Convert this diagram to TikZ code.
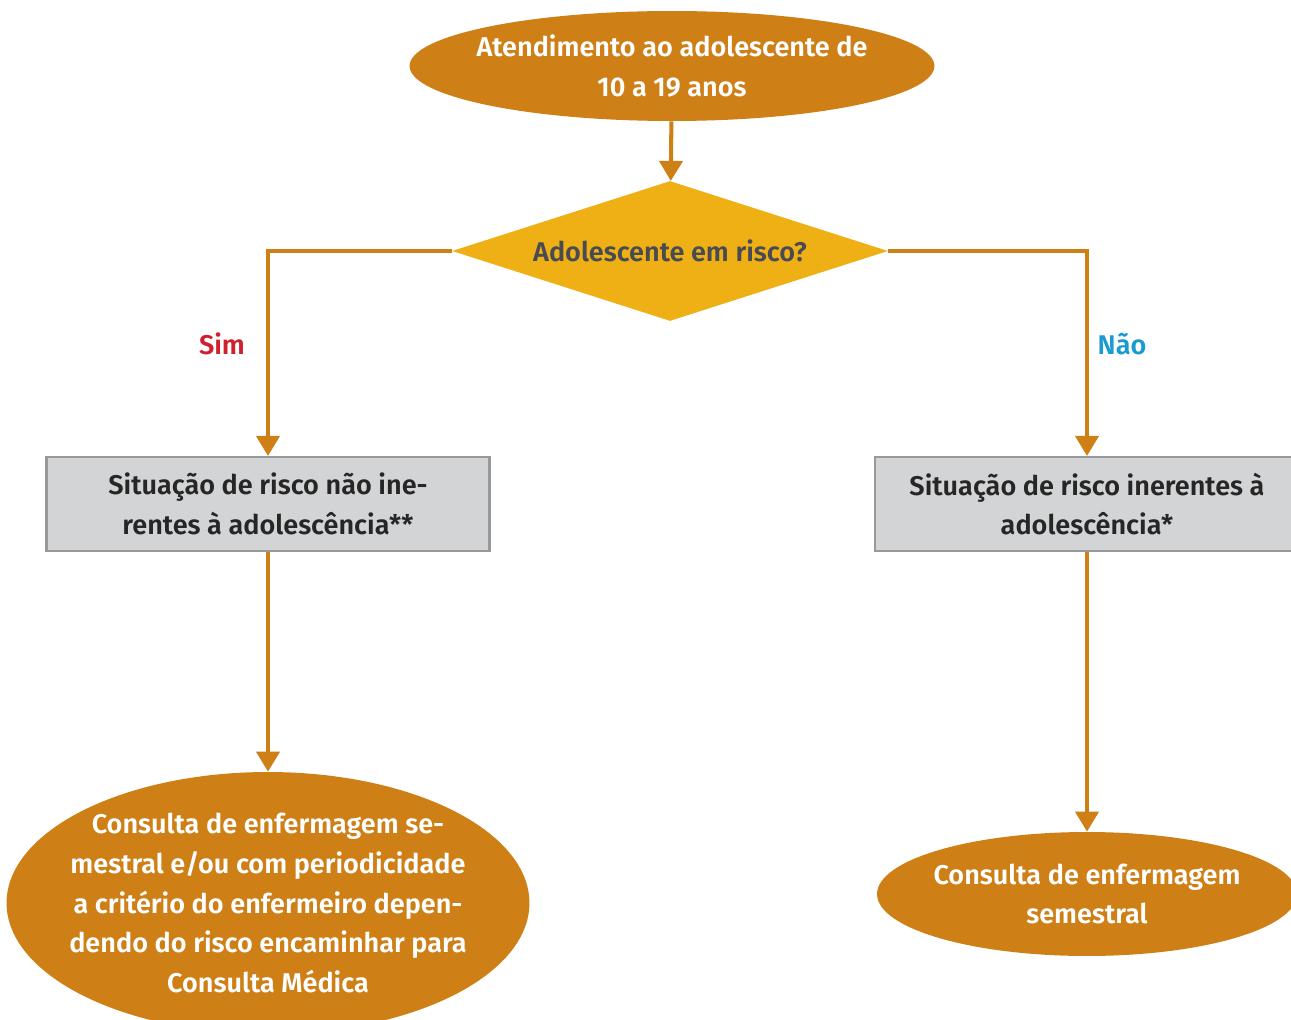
\documentclass[tikz,border=0pt]{standalone}
\usepackage{fontspec}
\setmainfont{Fira Sans}[BoldFont={Fira Sans SemiBold}]
\usetikzlibrary{shapes.geometric, arrows.meta}

\definecolor{ochre}{RGB}{206,128,22}
\definecolor{amber}{RGB}{239,176,22}
\definecolor{boxgray}{RGB}{211,212,214}
\definecolor{framegray}{RGB}{152,153,155}
\definecolor{darktext}{RGB}{72,76,82}
\definecolor{simred}{RGB}{208,32,46}
\definecolor{naoblue}{RGB}{26,154,208}

\begin{document}
\begin{tikzpicture}[x=0.02cm, y=-0.02cm,
    every node/.style={font=\fontsize{15.4}{22.7}\selectfont\bfseries, align=center},
    oval/.style={ellipse, fill=ochre, text=white, inner sep=-5mm},
    decision/.style={diamond, fill=amber, text=darktext, shape aspect=3.1, minimum width=8.72cm, minimum height=2.8cm, inner sep=0pt},
    riskbox/.style={rectangle, fill=boxgray, draw=framegray, line width=1.2pt, text=black!85, minimum height=1.88cm},
    flow/.style={draw=ochre, line width=2.3pt, -{Triangle[width=0.46cm, length=0.4cm]}}]
        \useasboundingbox (0,0) rectangle (1291,1020);
        \clip (0,0) rectangle (1291,1020);

        \node[oval, minimum width=10.5cm, minimum height=2.2cm] (start) at (672,66) {Atendimento ao adolescente de\\10 a 19 anos};
        \node[decision] (risk) at (670,251) {Adolescente em risco?};
        \node[riskbox, minimum width=8.86cm] (notinh) at (268,504) {Situação de risco não ine-\\rentes à adolescência**};
        \node[riskbox, minimum width=8.48cm] (inh) at (1087,504) {Situação de risco inerentes à\\adolescência*};
        \node[oval, minimum width=10.46cm, minimum height=5.24cm] (consmed) at (268,903) {Consulta de enfermagem se-\\mestral e/ou com periodicidade\\a critério do enfermeiro depen-\\dendo do risco encaminhar para\\Consulta Médica};
        \node[oval, minimum width=8.4cm, minimum height=2.48cm] (conssem) at (1087,894) {Consulta de enfermagem\\semestral};
        \node[text=simred] (sim) at (222,344) {Sim};
        \node[text=naoblue] (nao) at (1122,344) {Não};

        \draw[flow] (start) -- (risk);
        \draw[flow] (risk.west) -| (notinh);
        \draw[flow] (risk.east) -| (inh);
        \draw[flow] (notinh) -- (consmed);
        \draw[flow] (inh) -- (conssem);
      \end{tikzpicture}
\end{document}
